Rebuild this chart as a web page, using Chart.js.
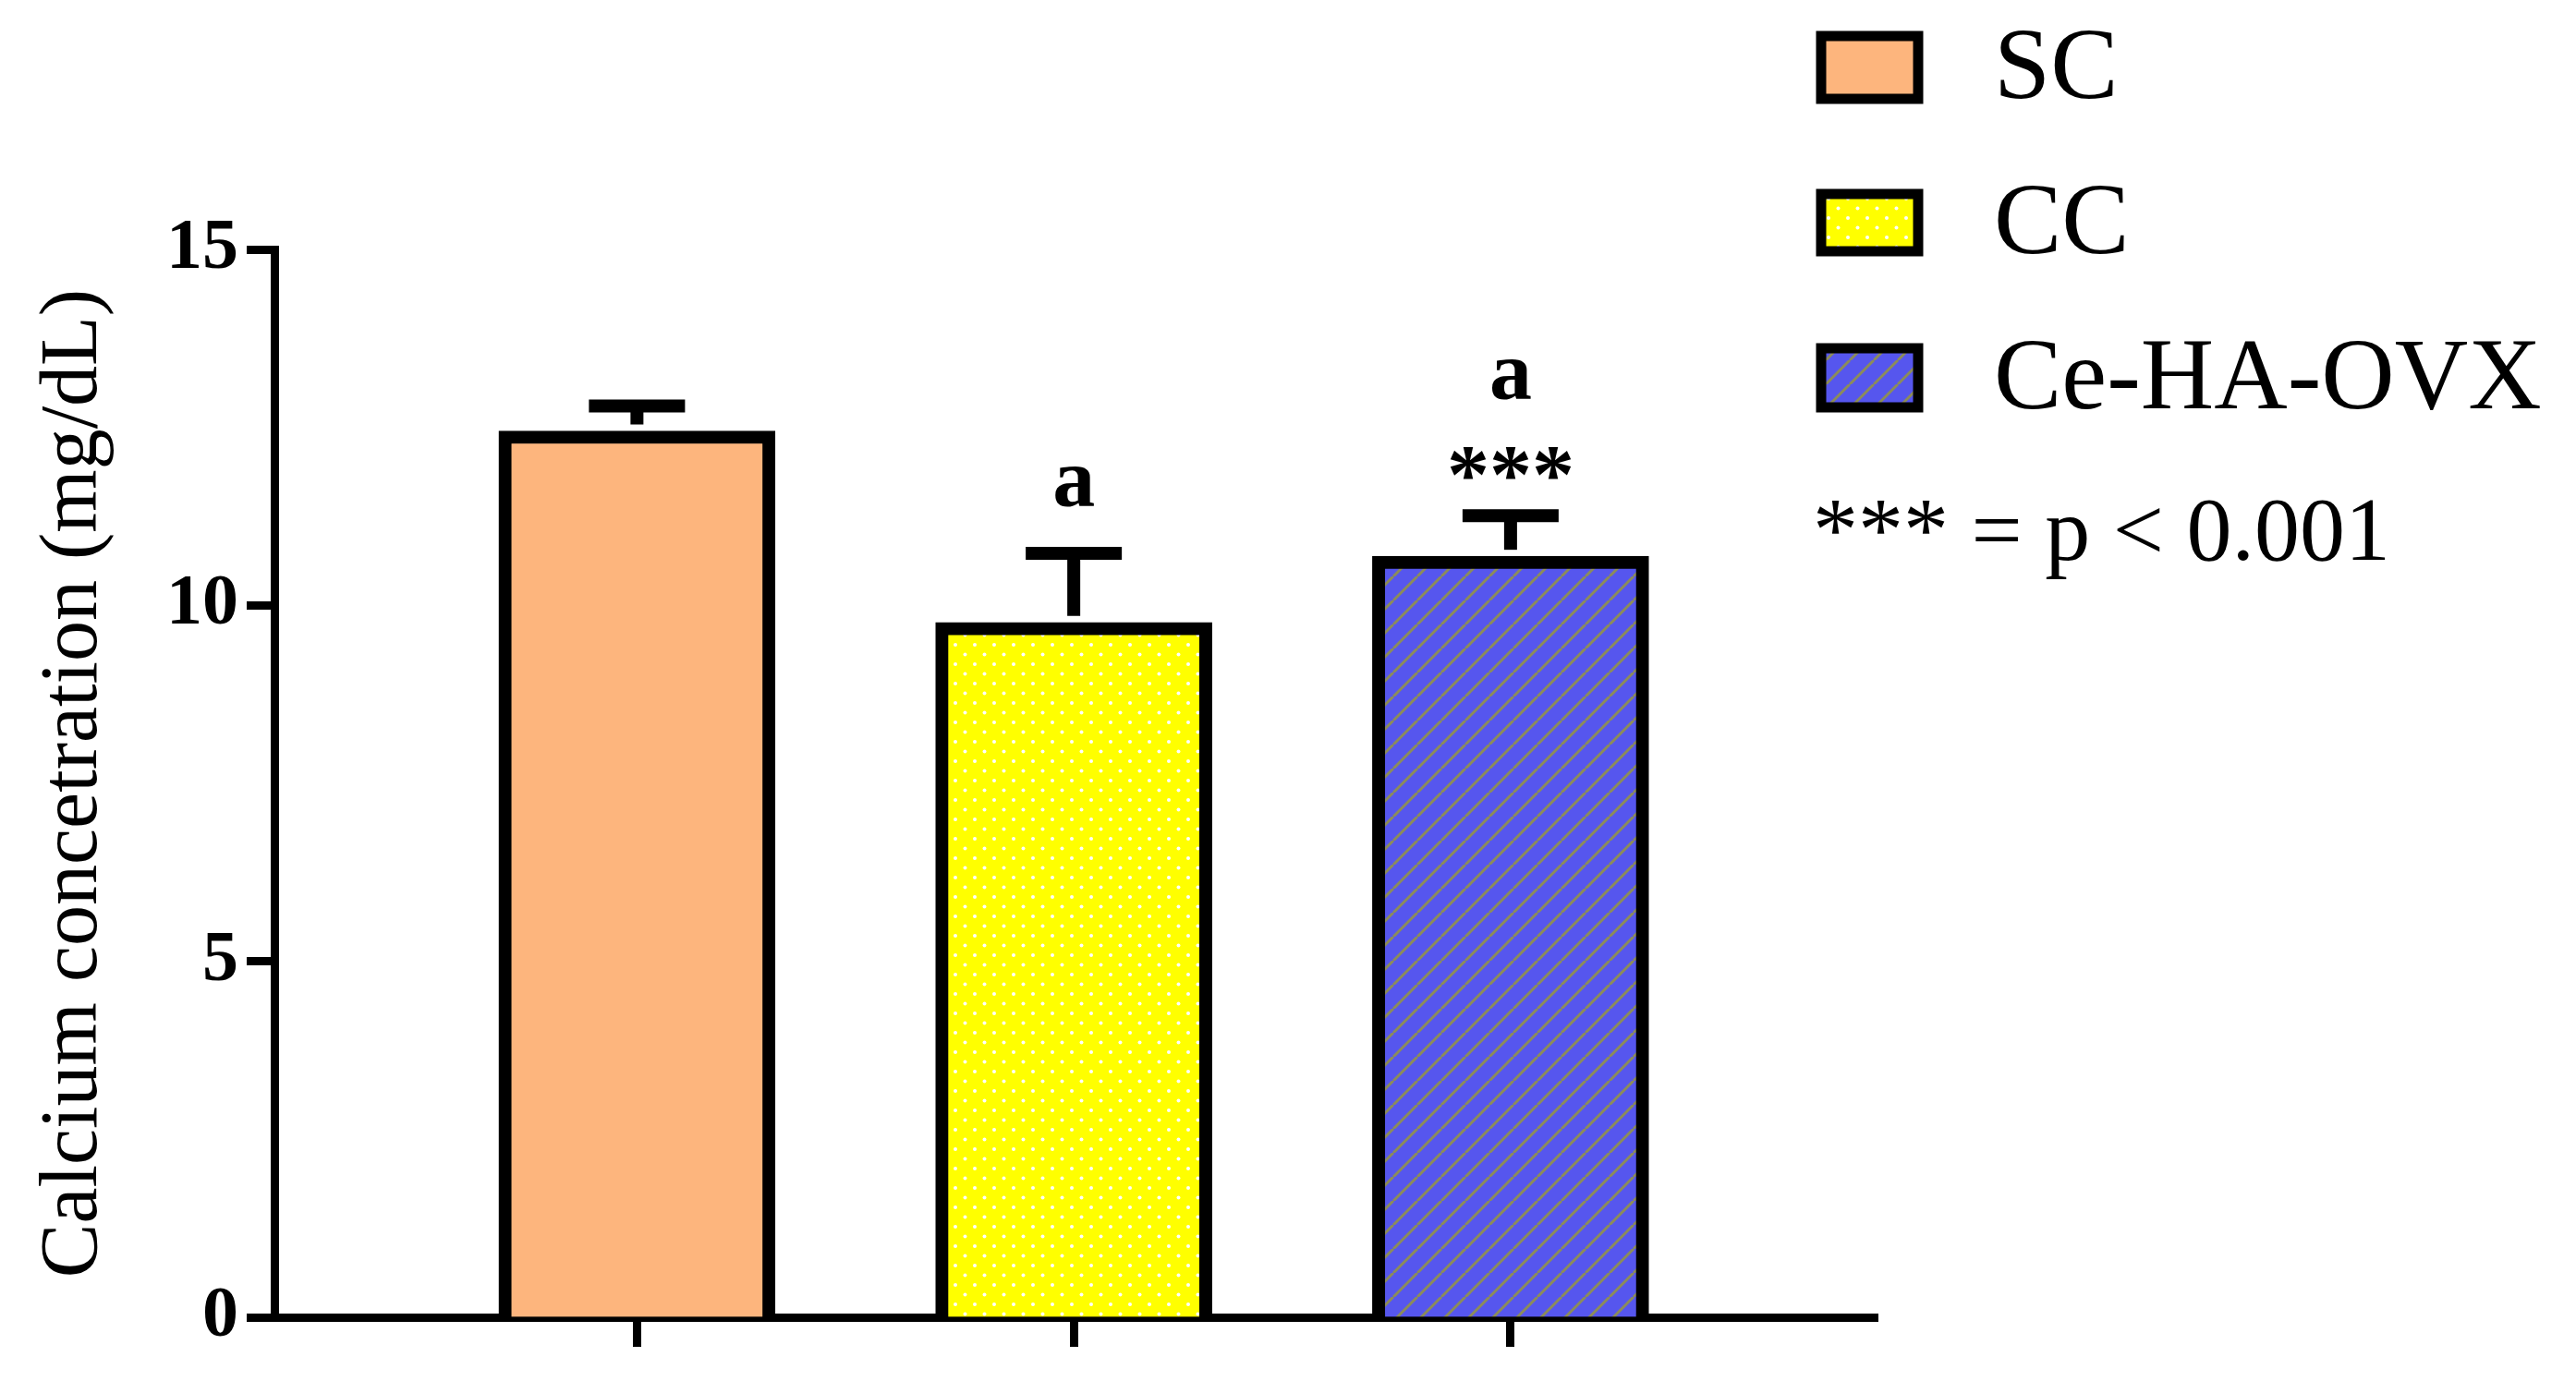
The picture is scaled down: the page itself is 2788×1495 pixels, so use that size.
<!DOCTYPE html>
<html><head><meta charset="utf-8">
<script src="https://cdn.jsdelivr.net/npm/chart.js@4"></script>
<style>html,body{margin:0;padding:0;background:#fff}#w{width:2788px;height:1495px}</style>
</head><body><div id="w"><canvas id="c"></canvas></div>
<script>
const categories = ['SC', 'CC', 'Ce-HA-OVX'];
const means = [12.45, 9.76, 10.69];
const errorsUp = [0.35, 0.97, 0.57];
const letterLabels = ['', 'a', 'a'];
const starLabels = ['', '', '***'];
const yTicks = [0, 5, 10, 15];
const noteText = '*** = p < 0.001';

function makePattern(kind){
  const p = document.createElement('canvas');
  const ctx = p.getContext('2d');
  if(kind==='dots'){
    p.width=21;p.height=21;
    ctx.fillStyle='#FFFF00';ctx.fillRect(0,0,21,21);
    ctx.fillStyle='#ffffff';
    ctx.beginPath();ctx.arc(5,5,2,0,Math.PI*2);ctx.fill();
    ctx.beginPath();ctx.arc(15.5,15.5,2,0,Math.PI*2);ctx.fill();
  } else if(kind==='hatch'){
    p.width=26;p.height=26;
    ctx.fillStyle='#5656EE';ctx.fillRect(0,0,26,26);
    ctx.strokeStyle='#8C8C5A';ctx.lineWidth=3;
    for(let k=-1;k<=1;k++){ctx.beginPath();ctx.moveTo(k*26,26);ctx.lineTo(k*26+26,0);ctx.stroke();}
  }
  return document.createElement('canvas').getContext('2d').createPattern(p,'repeat');
}
const fills = ['#FDB57D', makePattern('dots'), makePattern('hatch')];

const overlay = {
  id:'overlay',
  afterDatasetsDraw(chart){
    const ctx=chart.ctx, x=chart.scales.x, y=chart.scales.y;
    ctx.save();
    ctx.strokeStyle='#000';ctx.lineWidth=14;ctx.lineCap='butt';
    means.forEach((m,i)=>{
      const cx=x.getPixelForValue(i), top=y.getPixelForValue(m+errorsUp[i]), base=y.getPixelForValue(m)-7;
      ctx.beginPath();ctx.moveTo(cx,base);ctx.lineTo(cx,top);ctx.stroke();
      ctx.beginPath();ctx.moveTo(cx-52,top);ctx.lineTo(cx+52,top);ctx.stroke();
    });
    ctx.fillStyle='#000';ctx.textAlign='center';ctx.textBaseline='middle';
    ctx.font='bold 92px "Liberation Serif"';
    means.forEach((m,i)=>{
      const cx=x.getPixelForValue(i), top=y.getPixelForValue(m+errorsUp[i]);
      if(starLabels[i]){ctx.fillText(starLabels[i],cx,top-38);}
      if(letterLabels[i]){ctx.fillText(letterLabels[i],cx,top-(starLabels[i]?150:75));}
    });
    const boxes=[[39,107],[210,272],[377,441]];
    categories.forEach((c,i)=>{
      const [t,b]=boxes[i];
      ctx.fillStyle=fills[i];ctx.fillRect(1971,t,105,b-t);
      ctx.lineWidth=11;ctx.strokeStyle='#000';ctx.strokeRect(1971,t,105,b-t);
      ctx.fillStyle='#000';ctx.textAlign='left';ctx.font='110px "Liberation Serif"';
      ctx.fillText(c,2158,(t+b)/2+4);
    });
    ctx.font='98px "Liberation Serif"';ctx.fillText(noteText,1962,580);
    ctx.restore();
  }
};

new Chart(document.getElementById('c'),{
  type:'bar',
  data:{datasets:[{data:means.map((v,i)=>({x:i,y:v})),backgroundColor:fills,borderColor:'#000',borderWidth:14,barThickness:299,borderSkipped:'bottom'}]},
  options:{
    responsive:true,maintainAspectRatio:false,animation:false,devicePixelRatio:1,
    layout:{padding:{top:270,right:756,left:0,bottom:0}},
    plugins:{legend:{display:false},tooltip:{enabled:false}},
    scales:{
      x:{type:'linear',min:-0.83,max:2.84,offset:false,bounds:'ticks',
        afterBuildTicks(s){s.ticks=[0,1,2].map(v=>({value:v}));},
        afterDataLimits(s){s.min=-0.83;s.max=2.84;},
        afterFit(s){s.height=69;},
        ticks:{callback:()=>'',font:{size:1}},
        grid:{offset:false,drawOnChartArea:false,drawTicks:true,tickLength:32,tickWidth:9,color:'#000'},
        border:{width:9,color:'#000'}},
      y:{min:0,max:15,
        afterBuildTicks(s){s.ticks=yTicks.map(v=>({value:v}));},
        afterFit(s){s.width=297;},
        ticks:{color:'#000',padding:9,font:{family:'Liberation Serif',weight:'bold',size:78}},
        grid:{drawOnChartArea:false,drawTicks:true,tickLength:30,tickWidth:9,color:'#000'},
        border:{width:9,color:'#000'},
        title:{display:true,text:'Calcium concetration (mg/dL)',color:'#000',font:{family:'Liberation Serif',size:88},padding:{top:28,bottom:0}}}
    }
  },
  plugins:[overlay]
});
</script></body></html>
